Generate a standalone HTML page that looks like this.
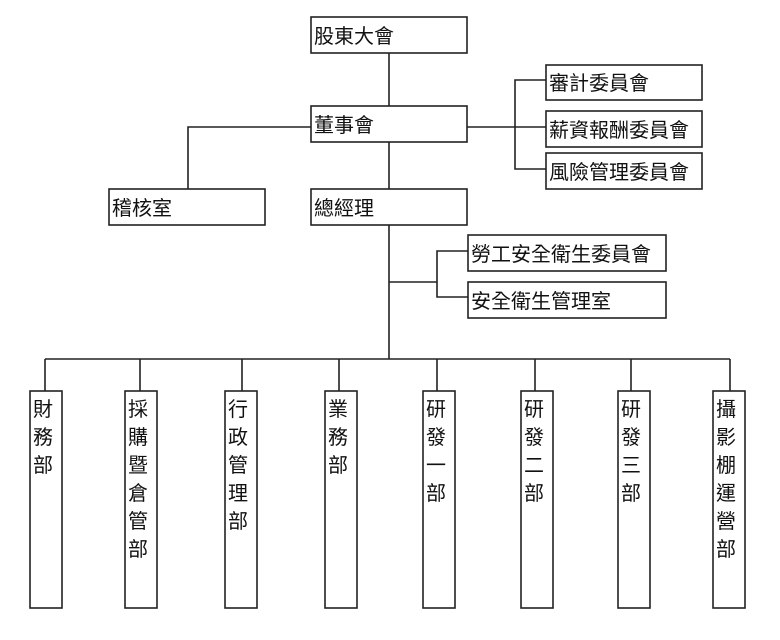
<!DOCTYPE html>
<html><head><meta charset="utf-8"><style>
html,body{margin:0;padding:0;background:#fff}
svg text{font-family:"Liberation Sans","Noto Sans CJK TC",sans-serif;font-size:20px;fill:#111}
</style></head><body>
<svg width="780" height="635" xmlns="http://www.w3.org/2000/svg">
<g fill="none" stroke="#222" stroke-width="1.6">
<!-- connectors -->
<line x1="389" y1="53" x2="389" y2="106"/>
<line x1="389" y1="142" x2="389" y2="189"/>
<polyline points="311,127 188,127 188,189"/>
<line x1="467" y1="127" x2="546" y2="127"/>
<polyline points="546,80 515,80 515,169 546,169"/>
<line x1="389" y1="225" x2="389" y2="359"/>
<line x1="389" y1="282" x2="437" y2="282"/>
<polyline points="468,251 437,251 437,297 468,297"/>
<line x1="45" y1="359" x2="730" y2="359"/>
<line x1="45" y1="359" x2="45" y2="391"/>
<line x1="140" y1="359" x2="140" y2="391"/>
<line x1="242" y1="359" x2="242" y2="391"/>
<line x1="339" y1="359" x2="339" y2="391"/>
<line x1="437" y1="359" x2="437" y2="391"/>
<line x1="535" y1="359" x2="535" y2="391"/>
<line x1="631" y1="359" x2="631" y2="391"/>
<line x1="730" y1="359" x2="730" y2="391"/>
<!-- boxes -->
<rect x="311" y="17" width="156" height="36"/>
<rect x="311" y="106" width="156" height="36"/>
<rect x="546" y="65" width="156" height="35"/>
<rect x="546" y="111" width="156" height="36"/>
<rect x="546" y="153" width="156" height="36"/>
<rect x="109" y="189" width="156" height="36"/>
<rect x="311" y="189" width="156" height="36"/>
<rect x="468" y="235" width="198" height="36"/>
<rect x="468" y="282" width="198" height="36"/>
<rect x="30" y="391" width="32" height="217"/>
<rect x="125" y="391" width="32" height="217"/>
<rect x="225" y="391" width="32" height="217"/>
<rect x="325" y="391" width="32" height="217"/>
<rect x="423" y="391" width="32" height="217"/>
<rect x="521" y="391" width="32" height="217"/>
<rect x="618" y="391" width="32" height="217"/>
<rect x="713" y="391" width="32" height="217"/>
</g>
<text x="314" y="43">股東大會</text>
<text x="314" y="132">董事會</text>
<text x="549" y="90">審計委員會</text>
<text x="549" y="137">薪資報酬委員會</text>
<text x="549" y="179">風險管理委員會</text>
<text x="112" y="215">稽核室</text>
<text x="314" y="215">總經理</text>
<text x="471" y="261">勞工安全衛生委員會</text>
<text x="471" y="308">安全衛生管理室</text>
<g>
<text x="33" y="416">財</text><text x="33" y="444">務</text><text x="33" y="472">部</text>
<text x="128" y="416">採</text><text x="128" y="444">購</text><text x="128" y="472">暨</text><text x="128" y="500">倉</text><text x="128" y="528">管</text><text x="128" y="556">部</text>
<text x="228" y="416">行</text><text x="228" y="444">政</text><text x="228" y="472">管</text><text x="228" y="500">理</text><text x="228" y="528">部</text>
<text x="328" y="416">業</text><text x="328" y="444">務</text><text x="328" y="472">部</text>
<text x="426" y="416">研</text><text x="426" y="444">發</text><text x="426" y="472">一</text><text x="426" y="500">部</text>
<text x="524" y="416">研</text><text x="524" y="444">發</text><text x="524" y="472">二</text><text x="524" y="500">部</text>
<text x="621" y="416">研</text><text x="621" y="444">發</text><text x="621" y="472">三</text><text x="621" y="500">部</text>
<text x="716" y="416">攝</text><text x="716" y="444">影</text><text x="716" y="472">棚</text><text x="716" y="500">運</text><text x="716" y="528">營</text><text x="716" y="556">部</text>
</g>
</svg>
</body></html>
